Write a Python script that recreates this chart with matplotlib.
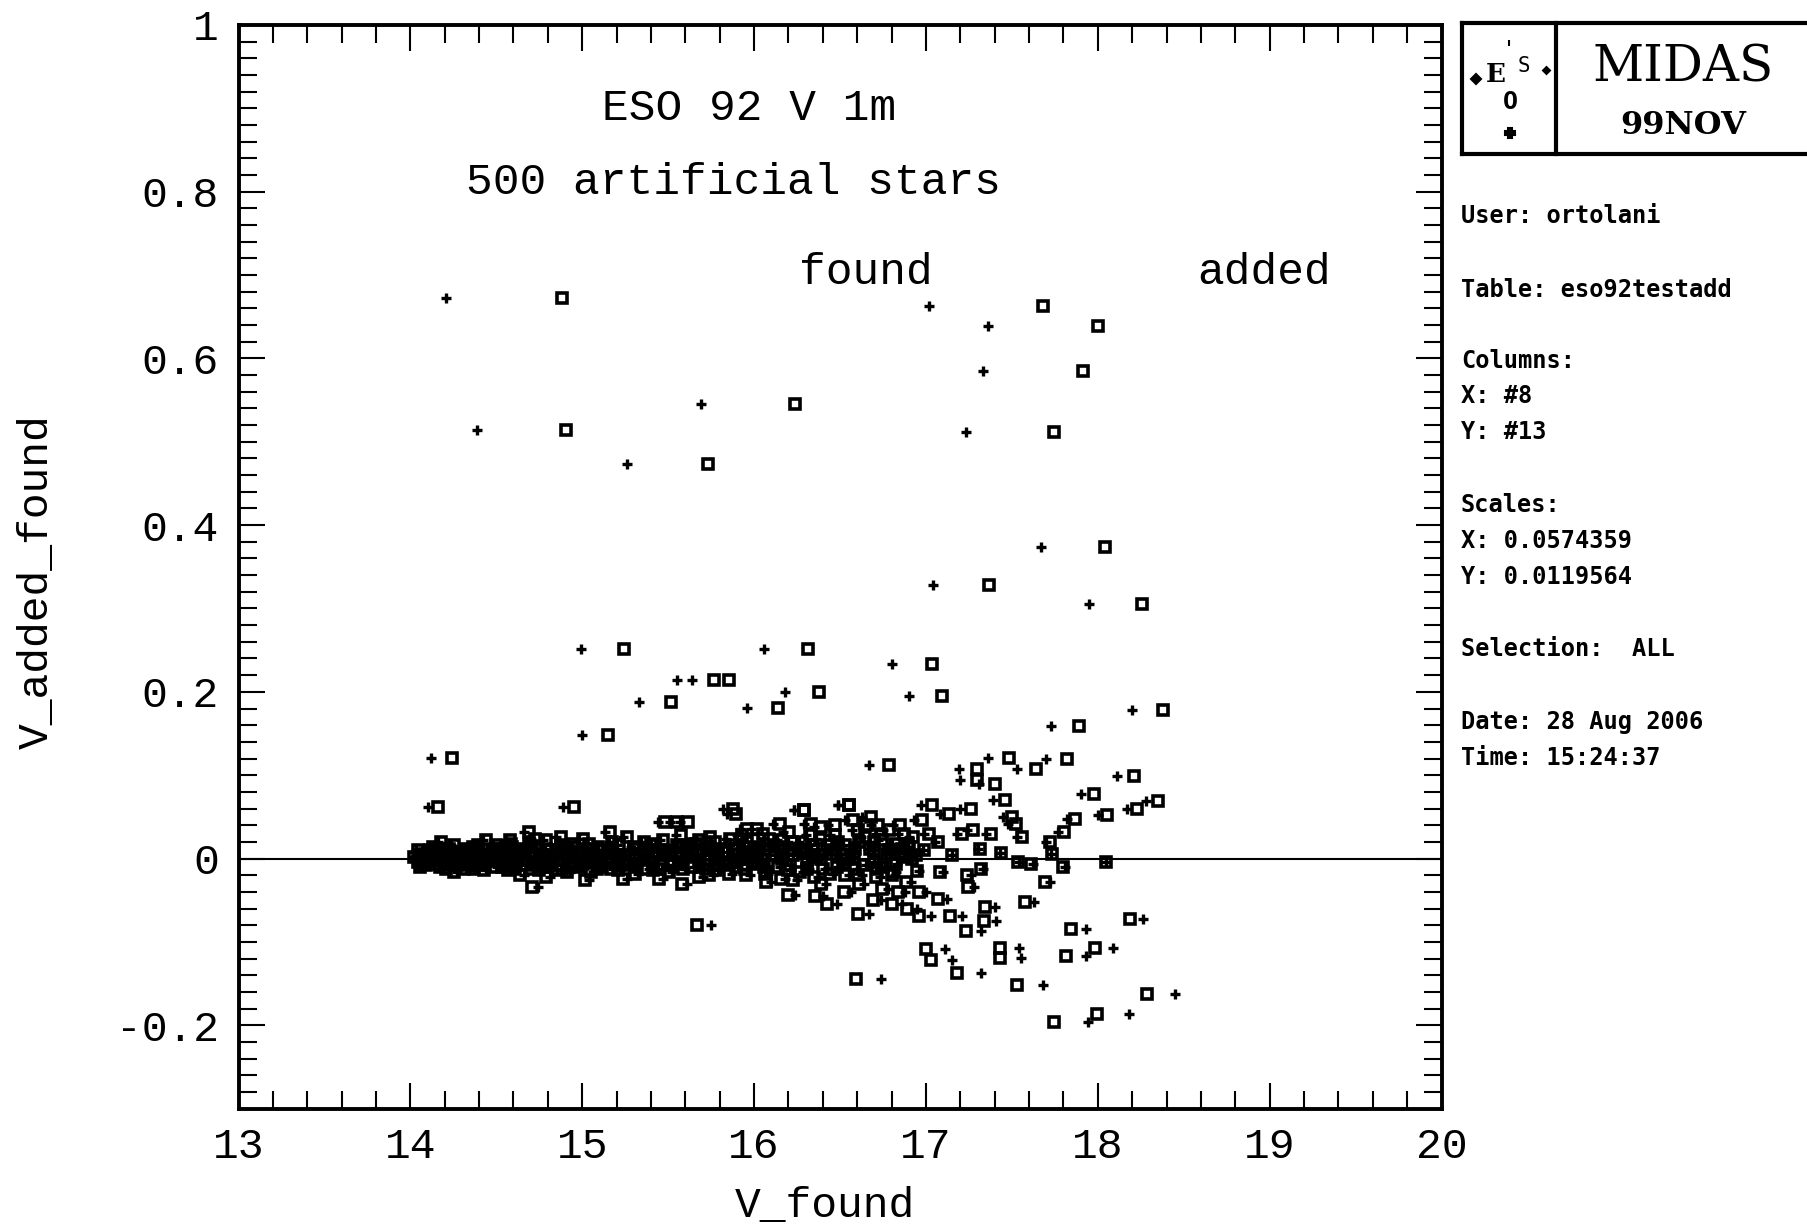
import numpy as np
import matplotlib
matplotlib.use("Agg")
import matplotlib.pyplot as plt
from matplotlib.lines import Line2D
from matplotlib.ticker import MultipleLocator, FixedLocator

W, H = 1807, 1225

# stars in the dense band around zero (V_found, V_added - V_found)
band_found = [
    14.02, 14.05, 14.08, 14.10, 14.13, 14.15, 14.16, 14.17, 14.20, 14.22, 14.25, 14.27, 14.30, 14.32, 14.35, 14.37, 14.40, 14.42, 14.44, 14.47, 14.49,
    14.52, 14.54, 14.57, 14.59, 14.62, 14.64, 14.66, 14.66, 14.69, 14.71, 14.74, 14.75, 14.77, 14.79, 14.81, 14.83, 14.86, 14.88, 14.91, 14.93, 14.96, 14.98,
    15.01, 15.04, 15.05, 15.08, 15.10, 15.13, 15.14, 15.17, 15.20, 15.22, 15.25, 15.26, 15.29, 15.31, 15.34, 15.36, 15.39, 15.41, 15.44, 15.45, 15.47, 15.49,
    15.51, 15.53, 15.55, 15.57, 15.58, 15.61, 15.62, 15.65, 15.67, 15.70, 15.72, 15.74, 15.76, 15.78, 15.80, 15.82, 15.84, 15.86, 15.87, 15.90, 15.92, 15.93, 15.96, 15.98,
    16.01, 16.03, 16.06, 16.08, 16.11, 16.12, 16.15, 16.17, 16.19, 16.21, 16.23, 16.24, 16.26, 16.29, 16.31, 16.33, 16.35, 16.37, 16.40, 16.41, 16.44, 16.46, 16.48, 16.49, 16.50,
    16.53, 16.55, 16.57, 16.58, 16.60, 16.62, 16.63, 16.64, 16.66, 16.67, 16.68, 16.70, 16.72, 16.74, 16.75, 16.77, 16.78, 16.80, 16.82, 16.84, 16.86, 16.87, 16.89, 16.91, 16.93, 16.95, 16.97, 16.98, 17.00, 17.03,
    17.05, 17.08, 17.10, 17.12, 17.15, 17.18, 17.20, 17.21, 17.24, 17.26, 17.28, 17.30, 17.33, 17.35, 17.39, 17.40, 17.41, 17.43, 17.45, 17.48,
    17.53, 17.54, 17.63, 17.62, 17.70, 17.72, 17.73, 17.77, 17.81, 17.82, 17.93, 17.90, 18.00, 18.05, 18.17, 18.28, 18.26,
]
band_diff = [
    0.002, -0.004, 0.006, -0.008, 0.003, 0.012, 0.020, -0.006, 0.001, -0.012, 0.008, -0.016, 0.004, -0.005, 0.014, -0.009, 0.002, 0.022, -0.014, 0.009, -0.003,
    0.012, -0.006, 0.018, 0.001, -0.012, 0.008, 0.032, -0.020, 0.015, -0.004, -0.034, 0.006, 0.022, -0.010, -0.022, 0.003, 0.016, -0.008, 0.010, -0.016, 0.002, 0.024,
    -0.006, -0.026, 0.012, 0.002, -0.012, 0.032, 0.008, -0.004, 0.016, -0.014, 0.004, -0.024, 0.012, -0.006, 0.020, 0.001, -0.012, 0.008, 0.044, 0.022, -0.024, 0.004,
    0.044, -0.008, 0.014, 0.044, 0.002, -0.030, 0.018, -0.010, 0.006, -0.022, 0.026, 0.004, -0.020, 0.012, -0.006, 0.060, 0.053, 0.016, -0.018, 0.028, 0.036, 0.004, -0.012, 0.036,
    0.014, -0.006, 0.024, -0.018, 0.042, 0.004, -0.010, 0.032, 0.012, -0.014, 0.058, -0.044, 0.020, 0.042, -0.004, 0.010, 0.038, -0.022, -0.045, 0.016, 0.028, -0.018, -0.054, 0.064, 0.006,
    0.046, -0.020, 0.034, 0.002, -0.012, 0.026, 0.050, -0.030, 0.012, -0.066, 0.040, -0.004, 0.022, -0.050, 0.034, 0.006, -0.036, 0.018, -0.020, 0.030, -0.055, 0.002, 0.014, -0.028, 0.046, -0.060, 0.064, 0.010, -0.040, -0.069,
    0.020, 0.054, -0.016, -0.048, 0.004, 0.030, 0.060, -0.069, 0.034, -0.020, -0.034, 0.012, -0.012, 0.030, 0.070, -0.058, -0.075, 0.007, 0.050, 0.042,
    0.026, -0.004, -0.052, -0.007, 0.020, -0.028, 0.006, 0.032, -0.010, 0.048, -0.085, 0.077, 0.052, -0.004, 0.059, 0.069, -0.072,
]

# more stars packed into the core of the band
core_found = [
    14.035, 14.065, 14.09, 14.115, 14.14, 14.19, 14.21, 14.235, 14.26, 14.285, 14.31, 14.34, 14.36, 14.385, 14.41, 14.43, 14.455, 14.48,
    14.505, 14.53, 14.555, 14.58, 14.605, 14.63, 14.655, 14.68, 14.70, 14.725, 14.76, 14.785, 14.80, 14.825, 14.85, 14.87, 14.895, 14.92, 14.945, 14.97, 14.99,
    15.02, 15.035, 15.065, 15.09, 15.115, 15.155, 15.18, 15.21, 15.235, 15.275, 15.30, 15.325, 15.35, 15.375, 15.40, 15.425, 15.46, 15.48,
    15.505, 15.52, 15.545, 15.565, 15.59, 15.60, 15.635, 15.66, 15.685, 15.71, 15.73, 15.75, 15.77, 15.79, 15.81, 15.835, 15.855, 15.88, 15.905, 15.94, 15.95, 15.975, 15.99,
    16.02, 16.045, 16.07, 16.095, 16.10, 16.135, 16.16, 16.18, 16.20, 16.225, 16.25, 16.275, 16.30, 16.32, 16.34, 16.36, 16.39, 16.42, 16.43, 16.45, 16.47, 16.49,
    16.515, 16.54, 16.565, 16.59, 16.61, 16.65, 16.69, 16.71, 16.73, 16.76, 16.79, 16.81, 16.83, 16.85, 16.88, 16.90, 16.92, 16.96, 16.99,
]
core_diff = [
    0.010, -0.010, 0.000, 0.014, -0.002, 0.007, -0.003, 0.016, 0.000, -0.008, 0.011, -0.001, 0.006, -0.012, 0.012, -0.006, 0.003, 0.016,
    -0.010, 0.004, 0.022, -0.014, 0.006, -0.002, 0.012, -0.008, 0.024, 0.002, -0.014, 0.010, 0.000, -0.006, 0.026, 0.005, -0.012, 0.018, -0.004, 0.008, -0.010,
    0.018, 0.004, -0.016, 0.010, 0.000, 0.020, -0.012, 0.004, 0.026, -0.008, 0.006, -0.018, 0.012, -0.002, 0.018, -0.014, 0.010, -0.008,
    0.008, -0.016, 0.028, -0.004, 0.012, -0.012, 0.006, 0.022, -0.004, 0.012, -0.012, 0.020, 0.000, -0.014, 0.008, 0.024, -0.008, 0.006, -0.010, 0.020, 0.000, -0.020, 0.010,
    0.030, 0.000, -0.010, 0.016, -0.028, 0.022, 0.000, -0.024, 0.020, 0.004, -0.026, 0.008, 0.028, -0.012, 0.002, 0.024, 0.000, -0.030, 0.040, 0.006, 0.020, -0.010,
    0.016, 0.000, -0.040, 0.020, 0.040, -0.008, 0.010, 0.030, -0.022, -0.010, 0.006, 0.040, -0.006, 0.012, -0.040, 0.026, 0.000, -0.015, 0.030,
]

# the innermost, fully blackened part of the band
inner_found = [
    14.045, 14.075, 14.105, 14.125, 14.165, 14.185, 14.215, 14.245, 14.275, 14.295, 14.325, 14.355, 14.375, 14.395, 14.425, 14.465, 14.495,
    14.515, 14.545, 14.575, 14.615, 14.645, 14.675, 14.715, 14.745, 14.775, 14.815, 14.845, 14.875, 14.905, 14.935, 14.965,
    15.015, 15.045, 15.075, 15.125, 15.165, 15.195, 15.245, 15.285, 15.315, 15.345, 15.385, 15.415, 15.435, 15.465,
    15.535, 15.575, 15.615, 15.645, 15.695, 15.745, 15.785, 15.825, 15.865, 15.895, 15.935, 15.965,
    16.015, 16.055, 16.085, 16.125, 16.165, 16.215, 16.255, 16.285, 16.325, 16.375, 16.415, 16.455,
    16.525, 16.575, 16.625, 16.675, 16.725, 16.775, 16.825, 16.875, 16.935,
]
inner_diff = [
    0.004, -0.006, 0.010, -0.002, 0.006, -0.010, 0.012, 0.002, -0.004, 0.008, -0.012, 0.004, 0.016, -0.008, 0.006, 0.000, 0.012,
    0.002, -0.010, 0.014, -0.004, 0.008, 0.018, -0.012, 0.004, 0.012, -0.002, 0.010, -0.014, 0.006, 0.014, -0.006,
    0.006, -0.004, 0.014, -0.010, 0.010, 0.002, -0.006, 0.014, -0.010, 0.006, 0.016, -0.004, 0.008, -0.012,
    0.016, -0.006, 0.004, 0.018, -0.008, 0.010, 0.004, -0.006, 0.012, -0.004, 0.014, 0.002,
    -0.004, 0.010, -0.016, 0.014, 0.002, -0.008, 0.012, -0.016, 0.016, 0.004, -0.012, 0.010,
    -0.006, 0.012, -0.020, 0.020, -0.012, 0.010, -0.016, 0.018, 0.004,
]

# stars well above the zero line
upper_found = [14.21, 14.39, 14.99, 15.00, 14.12, 14.10, 14.89, 15.26, 15.69, 15.33, 15.55, 15.64,
               15.96, 16.06, 16.18, 16.80, 16.90, 17.02, 17.36, 17.33, 17.23, 17.67, 17.04, 17.95,
               18.20, 17.73, 18.11, 16.67, 17.36, 17.53, 17.70, 17.19, 17.20, 17.31, 16.23, 16.49]
upper_diff = [0.672, 0.514, 0.251, 0.148, 0.121, 0.062, 0.062, 0.473, 0.545, 0.188, 0.214, 0.214,
              0.181, 0.251, 0.200, 0.233, 0.195, 0.663, 0.639, 0.585, 0.512, 0.374, 0.328, 0.305,
              0.178, 0.159, 0.099, 0.112, 0.121, 0.108, 0.120, 0.107, 0.094, 0.090, 0.058, 0.064]

# stars well below the zero line
lower_found = [15.75, 16.74, 17.68, 17.94, 18.18, 18.45, 17.32, 17.11, 17.15, 17.54, 17.55, 17.93, 18.09, 17.32]
lower_diff = [-0.080, -0.145, -0.152, -0.196, -0.186, -0.162, -0.137, -0.109, -0.122, -0.107, -0.119, -0.117, -0.107, -0.087]

x_ticks = [13, 14, 15, 16, 17, 18, 19, 20]
y_ticks = [-0.2, 0, 0.2, 0.4, 0.6, 0.8, 1]
y_tick_labels = ["-0.2", "0", "0.2", "0.4", "0.6", "0.8", "1"]

info_lines = [
    ("User: ortolani", 216),
    ("Table: eso92testadd", 290),
    ("Columns:", 361),
    ("X: #8", 396),
    ("Y: #13", 432),
    ("Scales:", 505),
    ("X: 0.0574359", 541),
    ("Y: 0.0119564", 577),
    ("Selection:  ALL", 649),
    ("Date: 28 Aug 2006", 722),
    ("Time: 15:24:37", 758),
]


def fx(x):
    return x / W


def fy(y):
    return 1 - y / H


found = np.array(band_found + core_found + inner_found + upper_found + lower_found)
diff = np.array(band_diff + core_diff + inner_diff + upper_diff + lower_diff)
added = found + diff  # V_added column

fig = plt.figure(figsize=(W / 100, H / 100), dpi=100)
ax = fig.add_axes([fx(238.5), 1 - 1108.6 / H, (1441.6 - 238.5) / W, (1108.6 - 25) / H])

ax.axhline(0, color="black", lw=1.5, zorder=1)
ax.plot(found, diff, "+", color="black", ms=6.5, mew=2.4, zorder=2)
ax.plot(added, diff, "s", mfc="none", mec="black", ms=6.5, mew=2.6, zorder=3)

ax.set_xlim(13, 20)
ax.set_ylim(-0.3, 1)
ax.xaxis.set_major_locator(FixedLocator(x_ticks))
ax.xaxis.set_minor_locator(MultipleLocator(0.2))
ax.yaxis.set_major_locator(FixedLocator(y_ticks))
ax.yaxis.set_minor_locator(MultipleLocator(0.02))
ax.set_xticklabels([str(t) for t in x_ticks])
ax.set_yticklabels(y_tick_labels)

mono = "Liberation Mono"
ax.tick_params(which="both", direction="in", top=True, right=True, width=1.5, colors="black")
ax.tick_params(which="major", length=19, labelsize=31)
ax.tick_params(axis="x", which="major", pad=13)
ax.tick_params(axis="y", which="major", pad=14)
ax.tick_params(which="minor", length=13)
for lab in ax.get_xticklabels() + ax.get_yticklabels():
    lab.set_family(mono)
for s in ax.spines.values():
    s.set_linewidth(2.8)

fig.text(fx(825), fy(1206), "V_found", ha="center", va="center", fontsize=31, family=mono)
fig.text(fx(37), fy(582), "V_added_found", ha="center", va="center", rotation=90, fontsize=31, family=mono)

fig.text(fx(749), fy(108), "ESO 92 V 1m", ha="center", va="center", fontsize=32, family=mono)
fig.text(fx(733), fy(182), "500 artificial stars", ha="center", va="center", fontsize=32, family=mono)
fig.text(fx(866), fy(272), "found", ha="center", va="center", fontsize=32, family=mono)
fig.text(fx(1264), fy(272), "added", ha="center", va="center", fontsize=32, family=mono)

# MIDAS logo box, open on the right edge
box = dict(color="black", lw=3, transform=fig.transFigure)
fig.add_artist(Line2D([fx(1462), 1.0], [fy(23), fy(23)], **box))
fig.add_artist(Line2D([fx(1462), 1.0], [fy(154), fy(154)], **box))
fig.add_artist(Line2D([fx(1462), fx(1462)], [fy(23), fy(154)], **box))
fig.add_artist(Line2D([fx(1556), fx(1556)], [fy(23), fy(154)], **box))

fig.text(fx(1683), fy(68), "MIDAS", ha="center", va="center", fontsize=36, family="DejaVu Serif")
fig.text(fx(1683), fy(126), "99NOV", ha="center", va="center", fontsize=23, family="DejaVu Serif", weight="bold")

# ESO emblem
fig.text(fx(1496), fy(74), "E", ha="center", va="center", fontsize=19, family="DejaVu Serif", weight="bold")
fig.text(fx(1524), fy(66), "S", ha="center", va="center", fontsize=15, family="DejaVu Sans Mono")
fig.text(fx(1510), fy(102), "O", ha="center", va="center", fontsize=18, family="DejaVu Sans Mono", weight="bold")
for (px, py, m, s) in [(1476, 79, "D", 5), (1546, 70, "D", 3.5), (1509, 43, "|", 5), (1510, 133, "P", 7)]:
    fig.add_artist(Line2D([fx(px)], [fy(py)], marker=m, ms=s, color="black", mew=1.5,
                          linestyle="none", transform=fig.transFigure))

for txt, yy in info_lines:
    fig.text(fx(1461), fy(yy), txt, ha="left", va="center", fontsize=17,
             family="DejaVu Sans Mono", weight="bold")

fig.savefig("out.png", dpi=100, facecolor="white")
